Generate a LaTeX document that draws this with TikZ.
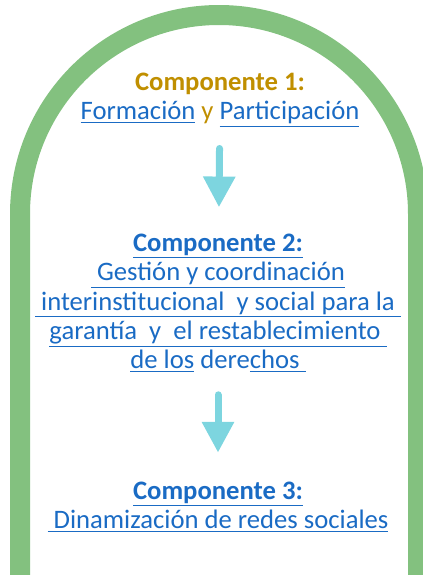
\documentclass[tikz,border=0pt]{standalone}
\usepackage{fontspec}
\setmainfont{Carlito}
\usetikzlibrary{arrows.meta}

\definecolor{archgreen}{HTML}{83C17F}
\definecolor{flowcyan}{HTML}{7DD5DF}
\definecolor{linkblue}{HTML}{1A6BC4}
\definecolor{titlegold}{HTML}{C08F00}
\newcommand{\ul}[1]{\underline{#1}}

\begin{document}
\begin{tikzpicture}[x=0.75pt, y=-0.75pt,
  comp/.style = {align=center, inner sep=0pt, text=linkblue, font=\fontsize{20}{22}\selectfont},
  flow/.style = {draw=flowcyan, line width=5.25pt, line cap=round, -{Triangle[width=23pt,length=23pt]}}]
\useasboundingbox (0,0) rectangle (423,575);

%arch
\draw[archgreen, line width=15pt] (20,590) -- (20,214) arc[start angle=180, end angle=360, radius=199] -- (418,590);

%components
\node[comp] (c1) at (220,100) {\textcolor{titlegold}{\textbf{Componente 1:}}\\
  \ul{Formación} \textcolor{titlegold}{y} \ul{Participación}};
\node[comp] (c2) at (218,303) {\textbf{\ul{Componente 2:}}\\
  \ul{\ Gestión y coordinación}\\
  \ul{\ interinstitucional\ \ y social para la\ }\\
  \ul{garantía\ \ y\ \ el restablecimiento\ }\\
  \ul{de los} dere\ul{chos\ }};
\node[comp] (c3) at (218,507) {\textbf{\ul{Componente 3:}}\\
  \ul{\ Dinamización de redes sociales}};

\draw[flow, shorten <=16pt, shorten >=20pt] (c1) -- (c2);
\draw[flow, shorten <=17pt, shorten >=22pt] (c2) -- (c3);
\end{tikzpicture}
\end{document}
